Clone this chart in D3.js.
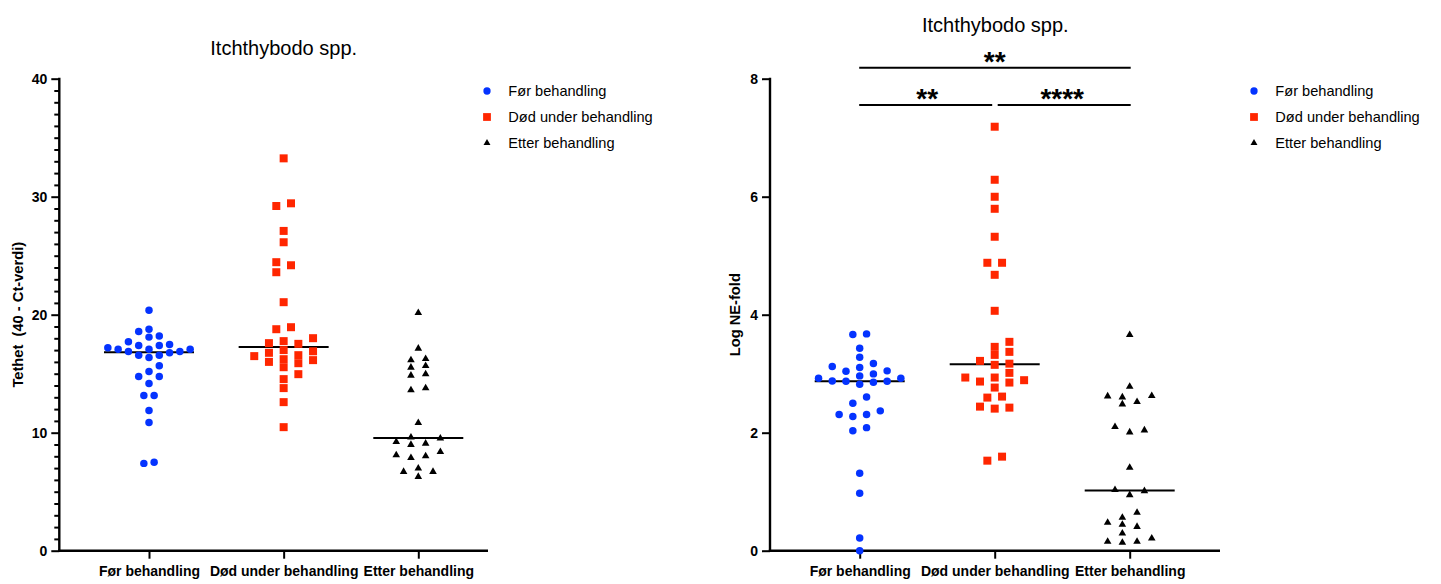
<!DOCTYPE html>
<html>
<head>
<meta charset="utf-8">
<script src="https://cdn.jsdelivr.net/npm/d3@7"></script>
<style>
  html, body { margin: 0; padding: 0; background: #fff; }
  svg { display: block; font-family: "Liberation Sans", Arial, Helvetica, sans-serif; }
</style>
</head>
<body>
<svg id="chart" width="1441" height="584"></svg>
<script>
// Groups (x categories)
const categories = ["Før behandling", "Død under behandling", "Etter behandling"];

// Tethet (40 - Ct-verdi)
const tethetFor = [20.38, 18.77, 18.58, 18.2, 18.1, 17.7, 17.08, 17.19, 16.88, 17.08, 17.39, 17.39,
  17.08, 17.48, 16.77, 16.88, 16.57, 16.57, 16.37, 15.67, 15.19, 14.77, 14.77, 14.17, 13.16, 13.16,
  11.89, 10.87, 7.4, 7.49];
const tethetDod = [33.25, 29.21, 29.44, 27.1, 26.14, 24.45, 24.19, 23.6, 21.06, 18.94, 18.77, 18.01,
  17.76, 17.53, 17.59, 17.0, 16.77, 16.9, 16.15, 16.49, 16.57, 15.89, 16.23, 15.55, 16.0, 14.96,
  14.54, 13.78, 12.59, 10.47];
const tethetEtter = [20.15, 17.14, 16.15, 16.26, 15.53, 15.67, 14.85, 14.96, 13.61, 13.78, 10.84,
  9.6, 9.52, 9.09, 9.23, 8.98, 8.38, 8.02, 8.1, 7.87, 6.98, 6.69, 6.69, 6.27];

// Log NE-fold
const logFor = [3.675, 3.664, 3.433, 3.28, 3.121, 3.172, 3.043, 2.924, 2.873, 2.873, 2.963, 2.822,
  2.997, 2.856, 3.048, 2.878, 3.104, 2.924, 2.607, 2.5, 2.307, 2.307, 2.273, 2.37, 2.035, 2.086,
  1.313, 0.974, 0.215, 0.0];
const logDod = [7.186, 6.287, 5.999, 5.795, 5.321, 4.88, 4.88, 4.676, 4.066, 3.54, 3.455, 3.37,
  3.319, 3.217, 3.17, 3.15, 3.014, 2.89, 2.765, 2.935, 2.935, 2.85, 2.867, 2.612, 2.595, 2.425,
  2.442, 2.408, 1.526, 1.594];
const logEtter = [3.658, 2.782, 2.602, 2.624, 2.618, 2.522, 2.483, 2.042, 2.008, 2.098, 1.408,
  1.013, 0.945, 1.03, 0.645, 0.56, 0.441, 0.475, 0.407, 0.295, 0.21, 0.136, 0.153, 0.153];

// Axis ticks
const tethetTicks = [0, 10, 20, 30, 40];
const logTicks = [0, 2, 4, 6, 8];

// Significance brackets: [from group, to group, label, tier]
const sigFrom = [0, 0, 1];
const sigTo = [2, 1, 2];
const sigLabels = ["**", "**", "****"];
const sigTier = [2, 1, 1];

const titleText = "Itchthybodo spp.";

const colors = ["#0433FF", "#FF2600", "#000000"];
const symbolTypes = [d3.symbolCircle, d3.symbolSquare, d3.symbolTriangle];
const symbolSizes = [44, 64, 25];
const markerExtent = [7.4, 8, 6.8];

const svg = d3.select("#chart");
const FONT = '"Liberation Sans", Arial, Helvetica, sans-serif';

// Column-based dot swarm: points that overlap vertically are pushed into
// side-by-side slots, then each overlapping cluster is centred on its group.
function swarm(values, y, d) {
  const pts = values.map(v => ({ v, y: y(v), slot: 0 })).sort((a, b) => a.v - b.v);
  const order = [0];
  for (let k = 1; k < 12; k++) order.push(k, -k);
  const placed = [];
  for (const p of pts) {
    const hits = placed.filter(q => Math.abs(q.y - p.y) < d);
    for (const s of order) {
      if (!hits.some(q => q.slot === s)) { p.slot = s; break; }
    }
    placed.push(p);
  }
  // clusters = chains of consecutive overlapping points
  let start = 0;
  for (let i = 1; i <= pts.length; i++) {
    if (i === pts.length || Math.abs(pts[i].y - pts[i - 1].y) >= d) {
      const cl = pts.slice(start, i);
      const mn = d3.min(cl, p => p.slot), mx = d3.max(cl, p => p.slot);
      const shift = -(mn + mx) / 2;
      cl.forEach(p => p.slot += shift);
      start = i;
    }
  }
  const spread = d3.max(pts, p => p.slot) - d3.min(pts, p => p.slot);
  const step = spread > 0 ? Math.min(14.7, 82.3 / spread) : 14.7;
  pts.forEach(p => p.dx = p.slot * step);
  return pts;
}

function panel(cfg) {
  const g = svg.append("g");
  const y = d3.scaleLinear().domain(cfg.domain).range([550.7, 78.7]);
  const x = d3.scalePoint().domain(categories).range(cfg.catRange);

  // title
  g.append("text")
    .attr("x", cfg.titleX).attr("y", cfg.titleY)
    .attr("text-anchor", "middle")
    .style("font-size", "20px").style("font-family", FONT)
    .text(titleText);

  // minor ticks
  if (cfg.minor) {
    const minorAxis = d3.axisLeft(y).tickValues(cfg.minor).tickSize(5).tickFormat("").tickSizeOuter(0);
    const mg = g.append("g").attr("transform", `translate(${cfg.axisX},0)`).call(minorAxis);
    mg.select(".domain").remove();
    mg.selectAll("line").attr("stroke", "#000").attr("stroke-width", 2);
  }

  // y axis
  const yAxis = d3.axisLeft(y).tickValues(cfg.ticks).tickSize(8).tickPadding(4).tickSizeOuter(0);
  const yg = g.append("g").attr("transform", `translate(${cfg.axisX},0)`).call(yAxis);
  yg.select(".domain").attr("stroke", "#000").attr("stroke-width", 2.4)
    .attr("d", `M0,${y.range()[1] - 1}V${y.range()[0] + 1.2}`);
  yg.selectAll(".tick line").attr("stroke", "#000").attr("stroke-width", 2);
  yg.selectAll(".tick text").attr("fill", "#000")
    .style("font-size", "14px").style("font-weight", "bold").style("font-family", FONT);

  // y axis title
  g.append("text")
    .attr("transform", `translate(${cfg.yTitleX},${(y.range()[0] + y.range()[1]) / 2}) rotate(-90)`)
    .attr("text-anchor", "middle")
    .style("font-size", "14.7px").style("font-weight", "bold").style("font-family", FONT)
    .style("white-space", "pre")
    .text(cfg.yTitle);

  // x axis
  const xAxis = d3.axisBottom(x).tickSize(8).tickPadding(7).tickSizeOuter(0);
  const xg = g.append("g").attr("transform", "translate(0,550.7)").call(xAxis);
  xg.select(".domain").remove();
  xg.append("line").attr("x1", cfg.axisX - 1.2).attr("x2", cfg.axisRight)
    .attr("y1", 0).attr("y2", 0).attr("stroke", "#000").attr("stroke-width", 2.4);
  xg.selectAll(".tick line").attr("stroke", "#000").attr("stroke-width", 2);
  xg.selectAll(".tick text").attr("fill", "#000")
    .style("font-size", "14px").style("font-weight", "bold").style("font-family", FONT);

  // medians and points
  cfg.series.forEach((vals, i) => {
    const cx = x(categories[i]);
    const med = d3.median(vals);
    g.append("line")
      .attr("x1", cx - 45).attr("x2", cx + 45)
      .attr("y1", y(med)).attr("y2", y(med))
      .attr("stroke", "#000").attr("stroke-width", 2);
    const pts = swarm(vals, y, markerExtent[i]);
    g.append("g").selectAll("path").data(pts).join("path")
      .attr("transform", p => `translate(${cx + p.dx},${p.y})`)
      .attr("d", d3.symbol(symbolTypes[i], symbolSizes[i]))
      .attr("fill", colors[i]);
  });

  // legend
  const lg = g.append("g").attr("transform", `translate(${cfg.legendX},91)`);
  categories.forEach((c, i) => {
    lg.append("path")
      .attr("transform", `translate(0,${i * 26})`)
      .attr("d", d3.symbol(symbolTypes[i], i === 2 ? 21 : symbolSizes[i] * 0.95))
      .attr("fill", colors[i]);
    lg.append("text")
      .attr("x", 21.3).attr("y", i * 26 + 5.2)
      .style("font-size", "14.6px").style("font-family", FONT)
      .text(c);
  });

  // significance brackets
  if (cfg.sig) {
    const tierY = { 1: 105, 2: 67.7 };
    sigFrom.forEach((f, k) => {
      const x1 = x(categories[f]), x2 = x(categories[sigTo[k]]);
      const ly = tierY[sigTier[k]];
      const gapL = (sigTier[k] === 1 && f === 1) ? 3.5 : 0;
      const gapR = (sigTier[k] === 1 && sigTo[k] === 1) ? 3.5 : 0;
      g.append("line")
        .attr("x1", x1 - 0.5 + gapL).attr("x2", x2 + 1 - gapR)
        .attr("y1", ly).attr("y2", ly)
        .attr("stroke", "#000").attr("stroke-width", 2);
      g.append("text")
        .attr("x", (x1 + x2) / 2).attr("y", ly + 3)
        .attr("text-anchor", "middle")
        .style("font-size", "28px").style("font-weight", "bold").style("font-family", FONT)
        .text(sigLabels[k]);
    });
  }
}

panel({
  domain: [0, 40], ticks: tethetTicks, minor: d3.range(0, 41).filter(v => v % 10 !== 0),
  axisX: 59.3, axisRight: 488, catRange: [149, 418.3],
  titleX: 283.7, titleY: 55, yTitleX: 22.5, yTitle: "Tethet  (40 - Ct-verdi)",
  series: [tethetFor, tethetDod, tethetEtter], legendX: 487, sig: false
});

panel({
  domain: [0, 8], ticks: logTicks, minor: null,
  axisX: 770, axisRight: 1220, catRange: [859.7, 1129.7],
  titleX: 995.3, titleY: 31.5, yTitleX: 740, yTitle: "Log NE-fold",
  series: [logFor, logDod, logEtter], legendX: 1254, sig: true
});
</script>
</body>
</html>
